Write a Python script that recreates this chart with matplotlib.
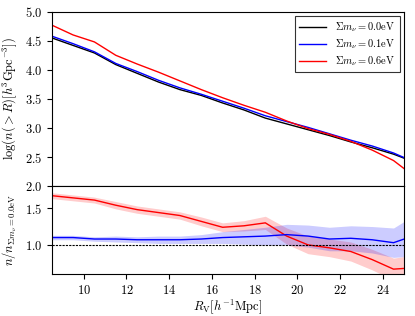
import numpy as np
import matplotlib
matplotlib.use("Agg")
import matplotlib.pyplot as plt

plt.rcParams['mathtext.fontset'] = 'cm'
plt.rcParams['font.family'] = 'serif'
plt.rcParams['font.serif'] = ['cmr10', 'DejaVu Serif']
plt.rcParams['axes.formatter.use_mathtext'] = True
plt.rcParams['font.size'] = 9

# void radius bins
R = np.array([8.5, 9.5, 10.5, 11.5, 12.5, 13.5, 14.5, 15.5, 16.5, 17.5,
              18.5, 19.5, 20.5, 21.5, 22.5, 23.5, 24.5, 25.0])

# log cumulative abundance
logn_00 = np.array([4.55, 4.42, 4.29, 4.09, 3.94, 3.79, 3.66, 3.56, 3.43, 3.31,
                    3.17, 3.07, 2.97, 2.87, 2.76, 2.66, 2.55, 2.48])
logn_01 = np.array([4.58, 4.45, 4.31, 4.11, 3.97, 3.82, 3.69, 3.58, 3.46, 3.34,
                    3.21, 3.11, 3.01, 2.90, 2.79, 2.69, 2.57, 2.49])
logn_06 = np.array([4.77, 4.60, 4.48, 4.25, 4.10, 3.96, 3.81, 3.66, 3.52, 3.39,
                    3.27, 3.12, 2.99, 2.89, 2.77, 2.62, 2.44, 2.30])

# ratio to massless case
ratio_01 = np.array([1.10, 1.10, 1.08, 1.08, 1.07, 1.07, 1.07, 1.08, 1.10, 1.11,
                     1.12, 1.14, 1.12, 1.08, 1.09, 1.07, 1.03, 1.08])
err_01 = np.array([0.03, 0.03, 0.03, 0.04, 0.04, 0.05, 0.05, 0.06, 0.08, 0.10,
                   0.12, 0.14, 0.15, 0.16, 0.17, 0.18, 0.20, 0.24])
ratio_06 = np.array([1.67, 1.64, 1.61, 1.54, 1.48, 1.44, 1.40, 1.32, 1.24, 1.26,
                     1.30, 1.12, 1.00, 0.96, 0.91, 0.80, 0.67, 0.68])
err_06 = np.array([0.04, 0.04, 0.04, 0.05, 0.05, 0.05, 0.05, 0.06, 0.06, 0.07,
                   0.09, 0.11, 0.12, 0.12, 0.13, 0.14, 0.15, 0.16])

fig = plt.figure(figsize=(4.15, 3.16), dpi=100)
ax1 = fig.add_axes([0.1246, 0.411, 0.8494, 0.552])
ax2 = fig.add_axes([0.1246, 0.132, 0.8494, 0.279], sharex=ax1)

ax1.plot(R, logn_00, color='k', lw=1, label=r'$\Sigma m_\nu=0.0{\rm eV}$')
ax1.plot(R, logn_01, color='b', lw=1, label=r'$\Sigma m_\nu=0.1{\rm eV}$')
ax1.plot(R, logn_06, color='r', lw=1, label=r'$\Sigma m_\nu=0.6{\rm eV}$')
ax1.set_ylim(2.0, 5.0)
ax1.set_xlim(8.5, 25)
ax1.set_ylabel(r'$\log(n(>R)[h^3{\rm Gpc}^{-3}])$')
ax1.tick_params(labelbottom=False)
leg = ax1.legend(loc='upper right', fancybox=False, edgecolor='k', fontsize=7.5,
                 handlelength=2.6, labelspacing=0.3, handletextpad=0.9,
                 borderaxespad=0.45)
leg.get_frame().set_linewidth(0.8)

ax2.fill_between(R, ratio_06 - err_06, ratio_06 + err_06, color='r', alpha=0.2, lw=0)
ax2.fill_between(R, ratio_01 - err_01, ratio_01 + err_01, color='b', alpha=0.2, lw=0)
ax2.plot(R, ratio_06, color='r', lw=1)
ax2.plot(R, ratio_01, color='b', lw=1)
ax2.axhline(1.0, color='k', lw=0.8, ls=(0, (2, 1)))
ax2.set_ylim(0.6, 1.8)
ax2.set_yticks([1.0, 1.5])
ax2.set_xticks([10, 12, 14, 16, 18, 20, 22, 24])
ax2.set_xlim(8.5, 25)
ax2.set_ylabel(r'$n/n_{\Sigma m_\nu=0.0{\rm eV}}$')
ax2.set_xlabel(r'$R_{\rm V}[h^{-1}{\rm Mpc}]$', labelpad=0)

fig.savefig('out.png', dpi=100)
